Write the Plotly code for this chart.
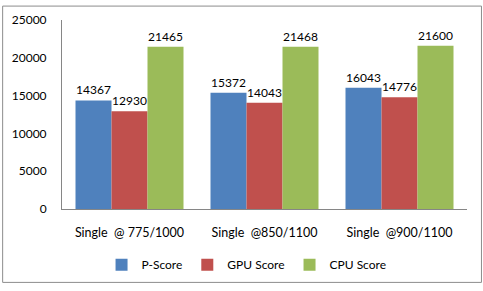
import plotly.graph_objects as go

categories = ["Single\u00a0 @ 775/1000", "Single\u00a0 @850/1100", "Single\u00a0 @900/1100"]
p_score = [14367, 15372, 16043]
gpu_score = [12930, 14043, 14776]
cpu_score = [21465, 21468, 21600]
series = [("P-Score", p_score, "#4F81BD"), ("GPU Score", gpu_score, "#C0504D"), ("CPU Score", cpu_score, "#9BBB59")]
y_ticks = [0, 5000, 10000, 15000, 20000, 25000]
y_ticktext = [str(v) for v in y_ticks]

W, H = 483, 291
L, R, T, B = 61, 16, 16, 78
pw, ph = W - L - R, H - T - B

fig = go.Figure()
for name, vals, col in series:
    fig.add_trace(go.Bar(x=categories, y=vals, name=name, marker=dict(color=col, line=dict(width=0)),
                         text=[str(v) for v in vals], textposition="outside", cliponaxis=False,
                         textfont=dict(size=12, color="black")))

def px2x(px):
    return (px - L) / pw

def py2y(py):
    return (H - B - py) / ph

fig.add_shape(type="rect", xref="paper", yref="paper", x0=px2x(1.5), x1=px2x(481.5), y0=py2y(1.5), y1=py2y(289.5),
              line=dict(color="#8C8C8C", width=1), layer="below")

fig.update_layout(
    width=W, height=H, margin=dict(l=L, r=R, t=T, b=B),
    paper_bgcolor="white", plot_bgcolor="white",
    font=dict(family="Lato, Noto Sans, sans-serif", size=12, color="black"),
    barmode="group", bargap=0.2, bargroupgap=0,
    showlegend=True,
    legend=dict(orientation="h", x=px2x(246), xanchor="center", y=py2y(271), yanchor="middle",
                font=dict(size=12), itemwidth=30, traceorder="normal"),
    xaxis=dict(showline=True, linecolor="#868686", linewidth=1, ticks="", showgrid=False,
               tickfont=dict(size=12.5), ticklabelstandoff=12),
    yaxis=dict(range=[0, 25000], tickvals=y_ticks, ticktext=y_ticktext, showline=True, linecolor="#868686", linewidth=1,
               showgrid=False, zeroline=False, ticks="", tickfont=dict(size=12), ticklabelstandoff=12),
)
fig.write_html("out.html")
